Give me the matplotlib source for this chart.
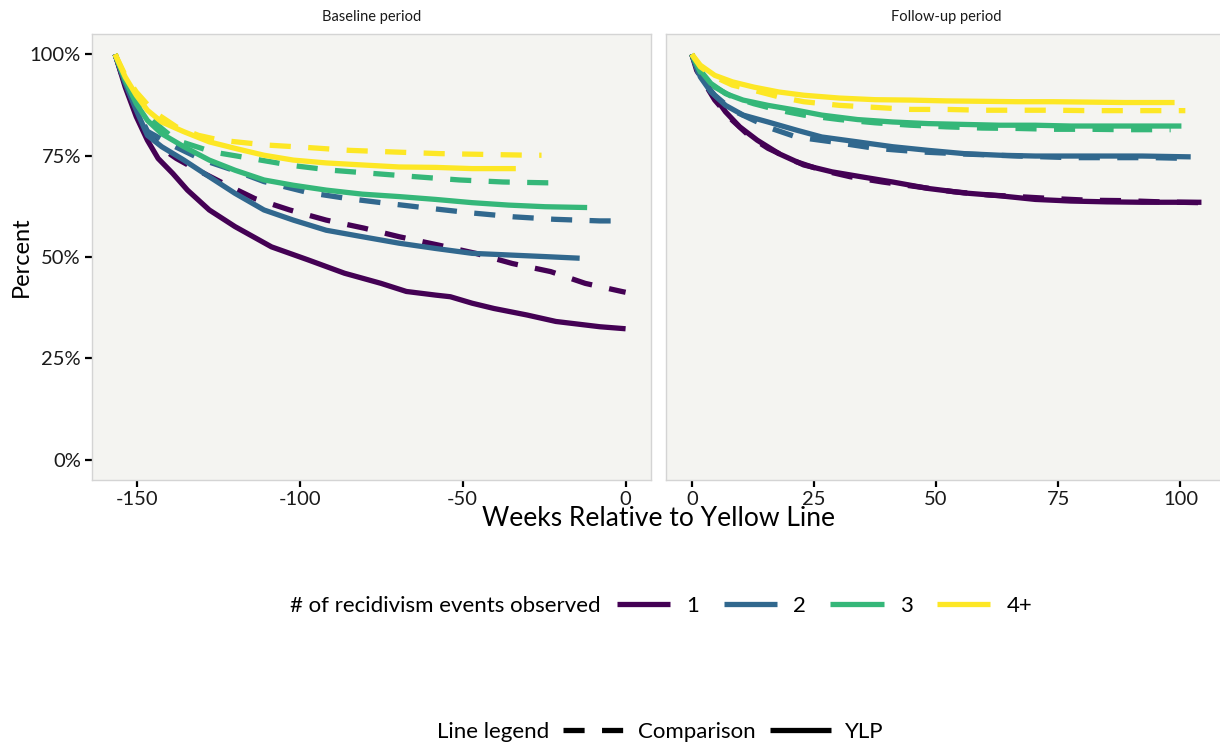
import numpy as np
import matplotlib
matplotlib.use('Agg')
import matplotlib.pyplot as plt
from matplotlib.lines import Line2D
from matplotlib.ticker import FuncFormatter

plt.rcParams['font.family'] = ['Lato', 'DejaVu Sans']
plt.rcParams['axes.unicode_minus'] = False

#%% data

groups = ["1", "2", "3", "4+"]
colors = ["#440154", "#31688E", "#35B779", "#FDE725"]

# Baseline period, YLP (solid)
base_ylp_w1 = [-156.7, -153.6, -150.2, -146.8, -143.5, -139.0, -134.5, -127.8, -119.9, -108.7, -97.5, -86.3, -75.1, -67.3, -58.3, -53.8, -47.1, -40.4, -30.3, -21.4, -7.9, 0]
base_ylp_p1 = [100.0, 91.9, 84.6, 78.8, 74.3, 70.6, 66.5, 61.6, 57.5, 52.5, 49.3, 46.0, 43.5, 41.5, 40.6, 40.2, 38.6, 37.3, 35.7, 34.1, 32.8, 32.3]
base_ylp_w2 = [-156.7, -153.6, -150.2, -146.8, -142.4, -135.6, -127.8, -119.9, -111.0, -102.0, -91.9, -80.8, -69.5, -58.3, -47.1, -35.9, -24.7, -14.1]
base_ylp_p2 = [100.0, 92.8, 86.2, 80.0, 77.2, 73.9, 69.8, 65.7, 61.6, 59.1, 56.6, 55.0, 53.4, 52.1, 50.9, 50.5, 50.1, 49.7]
base_ylp_w3 = [-156.7, -153.6, -150.2, -146.8, -142.4, -135.6, -127.8, -119.9, -111.0, -102.0, -91.9, -80.8, -69.5, -58.3, -47.1, -35.9, -24.7, -11.8]
base_ylp_p3 = [100.0, 93.6, 87.8, 83.7, 80.4, 77.2, 73.9, 71.4, 69.0, 67.7, 66.5, 65.5, 64.9, 64.2, 63.4, 62.8, 62.4, 62.2]
base_ylp_w4 = [-156.7, -153.6, -150.2, -146.8, -142.4, -135.6, -127.8, -119.9, -111.0, -102.0, -91.9, -80.8, -69.5, -58.3, -47.1, -33.7]
base_ylp_p4 = [100.0, 94.4, 89.9, 86.2, 83.3, 80.9, 78.4, 76.8, 75.1, 73.9, 73.2, 72.7, 72.2, 72.1, 71.8, 71.8]

# Baseline period, Comparison (dashed)
base_cmp_w1 = [-156.7, -153.6, -150.2, -146.8, -142.4, -137.9, -132.3, -123.3, -113.8, -103.1, -91.9, -80.2, -69.5, -57.8, -46.0, -34.8, -23.0, -12.4, -1.2, 0]
base_cmp_p1 = [100.0, 92.3, 85.8, 80.9, 76.8, 74.3, 71.8, 68.1, 64.4, 61.6, 59.1, 57.1, 55.0, 53.0, 50.9, 48.4, 46.4, 43.5, 41.5, 41.3]
base_cmp_w2 = [-156.7, -153.6, -150.2, -146.8, -139.0, -130.0, -120.0, -111.0, -97.5, -85.2, -72.9, -60.0, -47.7, -34.2, -21.9, -7.9, -4.0]
base_cmp_p2 = [100.0, 93.0, 86.8, 81.0, 77.5, 74.0, 71.3, 68.6, 65.9, 64.4, 63.2, 62.0, 60.9, 59.9, 59.3, 58.9, 58.9]
base_cmp_w3 = [-156.7, -153.6, -150.2, -146.8, -142.4, -137.9, -126.7, -114.9, -102.6, -90.3, -77.4, -64.5, -51.0, -37.6, -24.2, -20.2]
base_cmp_p3 = [100.0, 93.6, 88.2, 85.0, 81.7, 78.8, 75.9, 74.3, 72.6, 71.4, 70.6, 69.8, 69.0, 68.5, 68.3, 68.3]
base_cmp_w4 = [-156.7, -153.6, -150.2, -144.8, -137.9, -131.1, -124.4, -109.9, -97.5, -84.7, -71.2, -57.2, -43.2, -29.2, -25.8]
base_cmp_p4 = [100.0, 94.8, 90.7, 85.8, 82.1, 80.0, 78.8, 77.6, 77.0, 76.3, 75.9, 75.5, 75.3, 75.1, 75.1]

# Follow-up period, YLP (solid)
fu_ylp_w1 = [0, 1.0, 2.5, 4.7, 6.9, 9.8, 13.4, 17.8, 22.9, 28.7, 34.6, 41.1, 48.4, 55.7, 63.0, 70.3, 77.6, 84.9, 92.2, 104.3]
fu_ylp_p1 = [100, 96.9, 93.6, 89.5, 85.8, 82.1, 78.8, 75.5, 72.7, 71.0, 69.8, 68.5, 66.9, 65.8, 65.1, 64.2, 63.8, 63.6, 63.5, 63.5]
fu_ylp_w2 = [0, 1.75, 3.9, 6.9, 10.5, 15.6, 21.4, 26.6, 33.9, 41.1, 48.4, 55.7, 63.0, 70.3, 77.6, 84.9, 92.2, 102.1]
fu_ylp_p2 = [100, 94.4, 90.7, 87.4, 85.0, 83.3, 81.3, 79.6, 78.4, 77.2, 76.3, 75.5, 75.1, 74.9, 74.9, 74.9, 74.9, 74.7]
fu_ylp_w3 = [0, 1.75, 3.9, 6.9, 10.5, 15.6, 21.4, 26.6, 33.9, 41.1, 48.4, 55.7, 63.0, 70.3, 77.6, 84.9, 92.2, 100.2]
fu_ylp_p3 = [100, 96.0, 92.8, 90.3, 88.7, 87.4, 86.2, 85.0, 83.9, 83.3, 82.9, 82.7, 82.5, 82.5, 82.3, 82.3, 82.3, 82.3]
fu_ylp_w4 = [0, 1.75, 4.7, 8.3, 12.7, 17.8, 22.9, 30.2, 37.5, 44.8, 52.1, 59.4, 66.7, 74.0, 81.3, 88.6, 98.8]
fu_ylp_p4 = [100, 97.3, 94.8, 93.2, 91.9, 90.7, 89.9, 89.2, 88.8, 88.7, 88.5, 88.4, 88.3, 88.3, 88.2, 88.1, 88.1]

# Follow-up period, Comparison (dashed)
fu_cmp_w1 = [0, 1.0, 4.7, 8.3, 12.0, 15.6, 21.4, 26.6, 32.4, 39.0, 46.3, 53.6, 60.8, 66.7, 73.9, 81.3, 88.6, 95.9, 103.9]
fu_cmp_p1 = [100, 96.0, 88.7, 83.7, 79.6, 76.8, 73.5, 71.4, 69.8, 68.5, 67.3, 66.1, 65.3, 64.9, 64.4, 64.0, 63.9, 63.6, 63.4]
fu_cmp_w2 = [0, 1.75, 4.7, 8.3, 12.7, 16.3, 21.4, 28.7, 37.5, 47.0, 55.7, 66.7, 77.6, 84.9, 94.4, 102.1]
fu_cmp_p2 = [100, 94.0, 89.9, 86.2, 83.7, 81.7, 79.6, 78.4, 76.8, 75.9, 75.4, 74.9, 74.5, 74.5, 74.5, 74.3]
fu_cmp_w3 = [0, 1.75, 4.7, 8.3, 12.7, 17.8, 22.9, 30.2, 37.5, 44.8, 52.1, 59.4, 66.7, 74.0, 81.3, 88.6, 98.0]
fu_cmp_p3 = [100, 95.6, 91.9, 89.5, 87.8, 86.2, 85.0, 83.9, 83.1, 82.5, 82.1, 81.8, 81.7, 81.5, 81.5, 81.4, 81.4]
fu_cmp_w4 = [0, 1.75, 4.7, 8.3, 12.7, 17.8, 22.9, 30.2, 37.5, 44.8, 52.1, 59.4, 66.7, 74.0, 81.3, 88.6, 101.0]
fu_cmp_p4 = [100, 96.9, 94.4, 92.4, 91.1, 89.5, 88.3, 87.4, 86.9, 86.4, 86.4, 86.2, 86.2, 86.2, 86.1, 86.1, 86.1]

base_ylp = [(base_ylp_w1, base_ylp_p1), (base_ylp_w2, base_ylp_p2), (base_ylp_w3, base_ylp_p3), (base_ylp_w4, base_ylp_p4)]
base_cmp = [(base_cmp_w1, base_cmp_p1), (base_cmp_w2, base_cmp_p2), (base_cmp_w3, base_cmp_p3), (base_cmp_w4, base_cmp_p4)]
fu_ylp = [(fu_ylp_w1, fu_ylp_p1), (fu_ylp_w2, fu_ylp_p2), (fu_ylp_w3, fu_ylp_p3), (fu_ylp_w4, fu_ylp_p4)]
fu_cmp = [(fu_cmp_w1, fu_cmp_p1), (fu_cmp_w2, fu_cmp_p2), (fu_cmp_w3, fu_cmp_p3), (fu_cmp_w4, fu_cmp_p4)]

#%% figure

lw = 3.8
dash = (0, (4, 3.3))
bg = '#f4f4f1'
border = '#d4d4d4'
fs = 16

fig = plt.figure(figsize=(12.2, 7.46), dpi=100)
ax1 = fig.add_axes([92/1220, 1-480/746, 559/1220, 446/746])
ax2 = fig.add_axes([666.4/1220, 1-480/746, 559/1220, 446/746])

for ax, ylp, cmp_, title in [(ax1, base_ylp, base_cmp, "Baseline period"),
                             (ax2, fu_ylp, fu_cmp, "Follow-up period")]:
    ax.set_facecolor(bg)
    for i in range(4):
        ax.plot(cmp_[i][0], cmp_[i][1], c=colors[i], lw=lw, ls=dash, dash_capstyle='butt')
        ax.plot(ylp[i][0], ylp[i][1], c=colors[i], lw=lw, solid_capstyle='butt', solid_joinstyle='round')
    ax.set_ylim(-5, 105)
    ax.set_yticks([0, 25, 50, 75, 100])
    for s in ax.spines.values():
        s.set_color(border)
        s.set_linewidth(1.0)
    ax.tick_params(direction='out', length=5, width=1.6, color='black',
                   labelsize=14.5, labelcolor='#1a1a1a', pad=3)
    ax.set_title(title, fontsize=10.5, color='#1a1a1a', pad=9)

ax1.set_xlim(-163.8, 7.8)
ax1.set_xticks([-150, -100, -50, 0])
ax1.yaxis.set_major_formatter(FuncFormatter(lambda v, p: "%d%%" % v))
ax1.set_ylabel("Percent", fontsize=17)
ax1.yaxis.set_label_coords(-0.108, 0.5)

ax2.set_xlim(-5.2, 109.2)
ax2.set_xticks([0, 25, 50, 75, 100])
ax2.tick_params(axis='y', left=False, labelleft=False)

fig.text(658.5/1220, 1-519/746, "Weeks Relative to Yellow Line", ha='center', va='center', fontsize=19)

# colour legend
fig.text(290/1220, 1-606/746, "# of recidivism events observed", ha='left', va='center', fontsize=fs)
h1 = [Line2D([], [], c=colors[i], lw=lw, solid_capstyle='butt') for i in range(4)]
fig.legend(h1, groups, ncol=4, loc='center left', bbox_to_anchor=(617/1220, 1-606/746),
           frameon=False, fontsize=fs, handlelength=2.4, handletextpad=0.72,
           columnspacing=1.1, borderpad=0, borderaxespad=0)

# line type legend
fig.text(437/1220, 1-732/746, "Line legend", ha='left', va='center', fontsize=fs)
h2 = [Line2D([], [], c='black', lw=lw, ls=dash, dash_capstyle='butt'),
      Line2D([], [], c='black', lw=lw, solid_capstyle='butt')]
fig.legend(h2, ["Comparison", "YLP"], ncol=2, loc='center left', bbox_to_anchor=(563/1220, 1-732/746),
           frameon=False, fontsize=fs, handlelength=2.75, handletextpad=0.63,
           columnspacing=0.63, borderpad=0, borderaxespad=0)

fig.savefig('out.png', dpi=100, facecolor='white')
